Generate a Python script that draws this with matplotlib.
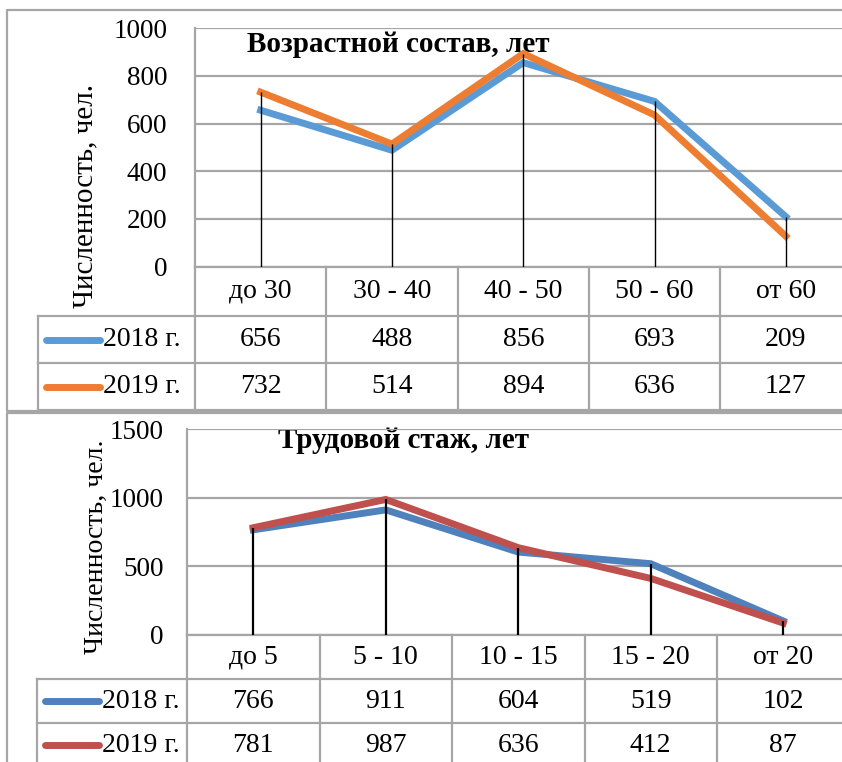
import matplotlib
matplotlib.use('Agg')
import matplotlib.pyplot as plt
from matplotlib.transforms import blended_transform_factory as btf

plt.rcParams['font.family'] = ['Liberation Serif', 'DejaVu Serif']

W, H = 842, 762

# ---- data ----
age_cats = ['до 30', '30 - 40', '40 - 50', '50 - 60', 'от 60']
age_2018 = [656, 488, 856, 693, 209]
age_2019 = [732, 514, 894, 636, 127]
exp_cats = ['до 5', '5 - 10', '10 - 15', '15 - 20', 'от 20']
exp_2018 = [766, 911, 604, 519, 102]
exp_2019 = [781, 987, 636, 412, 87]
series_labels = ['2018 г.', '2019 г.']
age_title = 'Возрастной состав, лет'
exp_title = 'Трудовой стаж, лет'
ylabel = 'Численность, чел.'
age_yticks = [0, 200, 400, 600, 800, 1000]
exp_yticks = [0, 500, 1000, 1500]

FS_TICK = 19.5
FS_TAB = 20
FS_TITLE = 21
GRID = '#a6a6a6'

fig = plt.figure(figsize=(W / 100, H / 100), dpi=100)
ov = fig.add_axes([0, 0, 1, 1])
ov.set_xlim(0, W)
ov.set_ylim(H, 0)
ov.axis('off')
ov.set_zorder(0)


def panel(cats, s1, s2, colors, title, yticks, box, rows, tleft, border,
          title_xy, ylab_xy, ylab_fs, pad, drop_lw):
    l, t, r, b = box
    ax = fig.add_axes([l / W, 1 - b / H, (r - l) / W, (b - t) / H])
    ax.set_zorder(1)
    ax.patch.set_alpha(0)
    n = len(cats)
    xs = list(range(n))
    ax.set_xlim(-0.5, n - 0.5)
    ax.set_ylim(yticks[0], yticks[-1])
    ax.set_yticks(yticks)
    ax.set_yticklabels([str(v) for v in yticks], fontsize=FS_TICK)
    ax.tick_params(axis='y', length=0, pad=pad)
    ax.set_xticks([])
    for s in ax.spines.values():
        s.set_visible(False)
    for v in yticks:
        ax.axhline(v, color=GRID, lw=1.6, zorder=1)
    ax.plot([-0.5, -0.5], [yticks[0], yticks[-1]], color=GRID, lw=1.6, zorder=1, clip_on=False)
    ax.plot(xs, s1, color=colors[0], lw=5.0, zorder=3, solid_joinstyle='miter')
    ax.plot(xs, s2, color=colors[1], lw=5.0, zorder=4, solid_joinstyle='miter')
    tops = [max(a, c) for a, c in zip(s1, s2)]
    ax.vlines(xs, 0, tops, color='black', lw=drop_lw, zorder=5)

    tr = btf(ax.transData, ov.transData)
    # panel border
    bl, bt, br, bb = border
    ov.plot([br, bl, bl, br], [bt, bt, bb, bb], color=GRID, lw=1.6, clip_on=False)
    # table lines
    ov.plot([-0.5, n + 1], [rows[0], rows[0]], color=GRID, lw=1.6, transform=tr, clip_on=False)
    for y in rows[1:]:
        ov.plot([tleft, W + 20], [y, y], color=GRID, lw=1.6, clip_on=False)
    for k in range(n + 1):
        ov.plot([k - 0.5, k - 0.5], [rows[0], rows[-1]], color=GRID, lw=1.6,
                transform=tr, clip_on=False)
    ov.plot([tleft, tleft], [rows[1], rows[-1]], color=GRID, lw=1.6, clip_on=False)
    # table text
    yc = [(rows[i] + rows[i + 1]) / 2 for i in range(3)]
    for i, c in enumerate(cats):
        ov.text(i, yc[0], c, transform=tr, ha='center', va='center', fontsize=FS_TAB,
                clip_on=False)
    for row, data in ((1, s1), (2, s2)):
        for i, v in enumerate(data):
            ov.text(i, yc[row], str(v), transform=tr, ha='center', va='center',
                    fontsize=FS_TAB, clip_on=False)
    for row, lab, col in ((1, series_labels[0], colors[0]), (2, series_labels[1], colors[1])):
        ov.plot([tleft + 8, tleft + 62], [yc[row], yc[row]], color=col, lw=5.0,
                solid_capstyle='round')
        ov.text(tleft + 65, yc[row], lab, ha='left', va='center', fontsize=FS_TAB)
    ov.text(title_xy[0], title_xy[1], title, ha='center', va='center', fontsize=FS_TITLE,
            fontweight='bold')
    ov.text(ylab_xy[0], ylab_xy[1], ylabel, ha='center', va='center', fontsize=ylab_fs,
            rotation=90)
    return ax


panel(age_cats, age_2018, age_2019, ['#5B9BD5', '#ED7D31'], age_title, age_yticks,
      box=(195, 28.3, 851.5, 266.5), rows=[266.5, 316, 363, 410], tleft=38,
      border=(7, 9.5, 900, 411), title_xy=(398, 45), ylab_xy=(85, 195.5), ylab_fs=21,
      pad=20, drop_lw=1.0)
panel(exp_cats, exp_2018, exp_2019, ['#4F81BD', '#C0504D'], exp_title, exp_yticks,
      box=(187, 429, 849.5, 635), rows=[635, 679, 723, 767], tleft=37,
      border=(7, 413, 900, 800), title_xy=(404, 440), ylab_xy=(96, 546.5), ylab_fs=20,
      pad=17, drop_lw=1.6)

fig.savefig('out.png', dpi=100)
